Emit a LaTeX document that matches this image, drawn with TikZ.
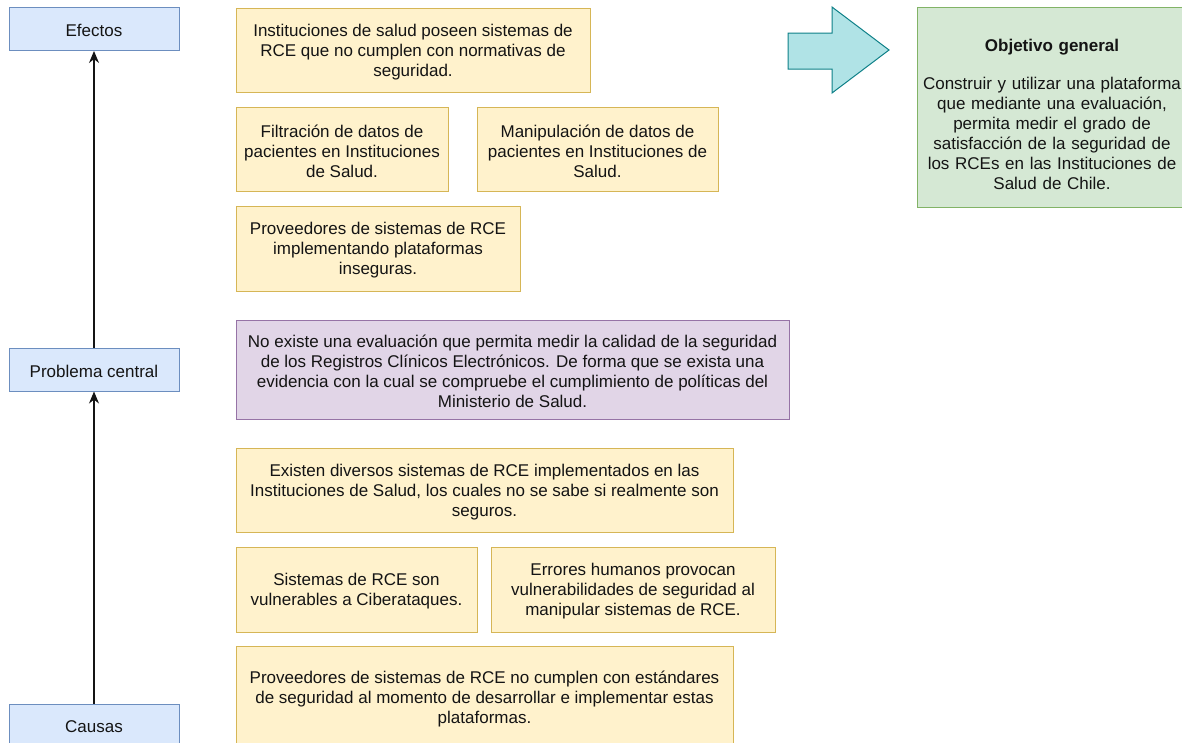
\documentclass[tikz,border=0pt]{standalone}
\usepackage{fontspec}
\setmainfont{Liberation Sans}
\usetikzlibrary{arrows.meta}
\definecolor{bluefill}{HTML}{DAE8FC}
\definecolor{bluedraw}{HTML}{6C8EBF}
\definecolor{yelfill}{HTML}{FFF2CC}
\definecolor{yeldraw}{HTML}{D6B656}
\definecolor{purfill}{HTML}{E1D5E7}
\definecolor{purdraw}{HTML}{9673A6}
\definecolor{grnfill}{HTML}{D5E8D4}
\definecolor{grndraw}{HTML}{82B366}
\definecolor{cyanfill}{HTML}{B0E3E6}
\definecolor{cyandraw}{HTML}{0E8088}
\definecolor{ink}{HTML}{141414}
\tikzset{
  box/.style={rectangle, line width=1pt, inner sep=0pt, align=center,
    font=\fontsize{17}{20}\selectfont, text=ink},
  level/.style={box, fill=bluefill, draw=bluedraw, minimum width=170pt, minimum height=43pt},
  ybox/.style={box, fill=yelfill, draw=yeldraw},
  pbox/.style={box, fill=purfill, draw=purdraw},
  gbox/.style={box, fill=grnfill, draw=grndraw},
  label/.style={box, draw=none, fill=none},
  link/.style={line width=1.1pt, draw=ink, -{Stealth[length=12pt,width=10pt]}},
}
\begin{document}
\begin{tikzpicture}[x=1pt,y=-1pt]
\useasboundingbox (0,0) rectangle (1182,742);

% left column: levels of the tree
\node[level] (efectos) at (94,29) {};
\node[label] (efectostext) at (94,30.5) {Efectos};
\node[level] (problema) at (94,369.5) {};
\node[label] (problematext) at (94,371) {Problema central};
\node[level] (causas) at (94,725.5) {};
\node[label] (causastext) at (94,727) {Causas};
\draw[link] (causas.north) -- (problema.south);
\draw[link] (problema.north) -- (efectos.south);

% effects
\node[ybox, minimum width=354pt, minimum height=84pt] (e1) at (413,50) {};
\node[label] (e1text) at (413,52)
  {Instituciones de salud poseen sistemas de\\RCE que no cumplen con normativas de\\seguridad.};
\node[ybox, minimum width=212pt, minimum height=84pt] (e2) at (342,149) {};
\node[label] (e2text) at (342,151)
  {Filtración de datos de\\pacientes en Instituciones\\de Salud.};
\node[ybox, minimum width=241pt, minimum height=84pt] (e3) at (597.5,149) {};
\node[label] (e3text) at (597.5,151)
  {Manipulación de datos de\\pacientes en Instituciones de\\Salud.};
\node[ybox, minimum width=284pt, minimum height=85pt] (e4) at (378,248.5) {};
\node[label] (e4text) at (378,250.5)
  {Proveedores de sistemas de RCE\\implementando plataformas\\inseguras.};

% central problem
\node[pbox, minimum width=553pt, minimum height=99pt] (pc) at (512.5,369.5) {};
\node[label] (pctext) at (512.5,371.5)
  {No existe una evaluación que permita medir la calidad de la seguridad\\de los Registros Clínicos Electrónicos. De forma que se exista una\\evidencia con la cual se compruebe el cumplimiento de políticas del\\Ministerio de Salud.};

% causes
\node[ybox, minimum width=497pt, minimum height=84pt] (c1) at (484.5,490) {};
\node[label] (c1text) at (484.5,492)
  {Existen diversos sistemas de RCE implementados en las\\Instituciones de Salud, los cuales no se sabe si realmente son\\seguros.};
\node[ybox, minimum width=241pt, minimum height=85pt] (c2) at (356.5,589.5) {};
\node[label] (c2text) at (356.5,591.5)
  {Sistemas de RCE son\\vulnerables a Ciberataques.};
\node[ybox, minimum width=284pt, minimum height=85pt] (c3) at (633,589.5) {};
\node[label] (c3text) at (633,591.5)
  {Errores humanos provocan\\vulnerabilidades de seguridad al\\manipular sistemas de RCE.};
\node[ybox, minimum width=497pt, minimum height=102pt] (c4) at (484.5,697) {};
\node[label] (c4text) at (484.5,699)
  {Proveedores de sistemas de RCE no cumplen con estándares\\de seguridad al momento de desarrollar e implementar estas\\plataformas.};

% block arrow pointing to the objective
\draw[line width=1pt, fill=cyanfill, draw=cyandraw]
  (788,33) -- (832,33) -- (832,7) -- (889,50) -- (832,93) -- (832,69) -- (788,69) -- cycle;

% general objective
\node[gbox, minimum width=270pt, minimum height=200pt] (obj) at (1052,107) {};
\node[label, text width=280pt] (objtext) at (1052,114)
  {\textbf{Objetivo general}\\[18pt]Construir y utilizar una plataforma\\que mediante una evaluación,\\permita medir el grado de\\satisfacción de la seguridad de\\los RCEs en las Instituciones de\\Salud de Chile.};
\end{tikzpicture}
\end{document}
